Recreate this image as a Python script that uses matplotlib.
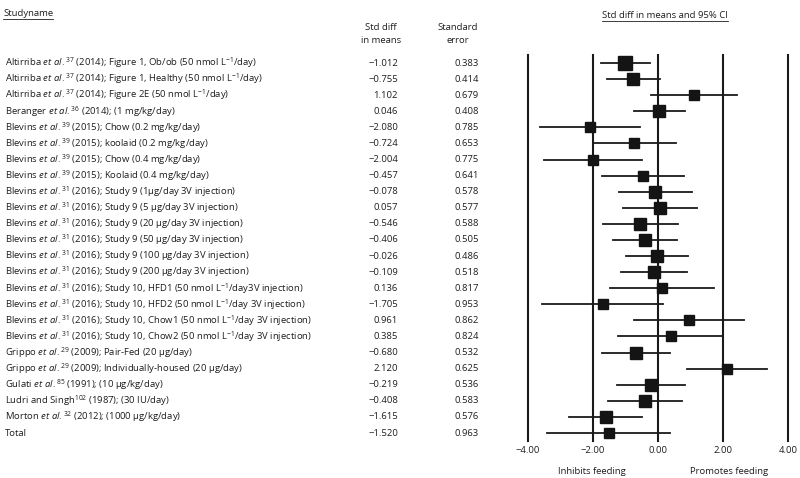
import numpy as np
import matplotlib
matplotlib.use("Agg")
import matplotlib.pyplot as plt
from matplotlib import transforms
from matplotlib.lines import Line2D

plt.rcParams['font.family'] = ['Open Sans', 'DejaVu Sans']
plt.rcParams['mathtext.fontset'] = 'custom'
plt.rcParams['mathtext.rm'] = 'Open Sans'
plt.rcParams['mathtext.it'] = 'Open Sans:italic'

# STUDY LABELS (mathtext for italics / superscripts)
ETAL = r"$\mathit{et\ al.}^{%s}$"
study_names = [
    "Altirriba " + ETAL % "37" + " (2014); Figure 1, Ob/ob (50 nmol L$^{-1}$/day)",
    "Altirriba " + ETAL % "37" + " (2014); Figure 1, Healthy (50 nmol L$^{-1}$/day)",
    "Altirriba " + ETAL % "37" + " (2014); Figure 2E (50 nmol L$^{-1}$/day)",
    "Beranger " + ETAL % "36" + " (2014); (1 mg/kg/day)",
    "Blevins " + ETAL % "39" + " (2015); Chow (0.2 mg/kg/day)",
    "Blevins " + ETAL % "39" + " (2015); koolaid (0.2 mg/kg/day)",
    "Blevins " + ETAL % "39" + " (2015); Chow (0.4 mg/kg/day)",
    "Blevins " + ETAL % "39" + " (2015); Koolaid (0.4 mg/kg/day)",
    "Blevins " + ETAL % "31" + " (2016); Study 9 (1μg/day 3V injection)",
    "Blevins " + ETAL % "31" + " (2016); Study 9 (5 μg/day 3V injection)",
    "Blevins " + ETAL % "31" + " (2016); Study 9 (20 μg/day 3V injection)",
    "Blevins " + ETAL % "31" + " (2016); Study 9 (50 μg/day 3V injection)",
    "Blevins " + ETAL % "31" + " (2016); Study 9 (100 μg/day 3V injection)",
    "Blevins " + ETAL % "31" + " (2016); Study 9 (200 μg/day 3V injection)",
    "Blevins " + ETAL % "31" + " (2016); Study 10, HFD1 (50 nmol L$^{-1}$/day3V injection)",
    "Blevins " + ETAL % "31" + " (2016); Study 10, HFD2 (50 nmol L$^{-1}$/day 3V injection)",
    "Blevins " + ETAL % "31" + " (2016); Study 10, Chow1 (50 nmol L$^{-1}$/day 3V injection)",
    "Blevins " + ETAL % "31" + " (2016); Study 10, Chow2 (50 nmol L$^{-1}$/day 3V injection)",
    "Grippo " + ETAL % "29" + " (2009); Pair-Fed (20 μg/day)",
    "Grippo " + ETAL % "29" + " (2009); Individually-housed (20 μg/day)",
    "Gulati " + ETAL % "85" + " (1991); (10 μg/kg/day)",
    "Ludri and Singh$^{102}$ (1987); (30 IU/day)",
    "Morton " + ETAL % "32" + " (2012); (1000 μg/kg/day)",
    "Total",
]
std_diff = [-1.012, -0.755, 1.102, 0.046, -2.080, -0.724, -2.004, -0.457,
            -0.078, 0.057, -0.546, -0.406, -0.026, -0.109, 0.136, -1.705,
            0.961, 0.385, -0.680, 2.120, -0.219, -0.408, -1.615, -1.520]
std_err = [0.383, 0.414, 0.679, 0.408, 0.785, 0.653, 0.775, 0.641,
           0.578, 0.577, 0.588, 0.505, 0.486, 0.518, 0.817, 0.953,
           0.862, 0.824, 0.532, 0.625, 0.536, 0.583, 0.576, 0.963]
x_ticks = [-4, -2, 0, 2, 4]


def fmt(v):
    return f"{v:.3f}".replace("-", "\u2212")


W, H = 800, 478
fig = plt.figure(figsize=(W / 100, H / 100), dpi=100)

n = len(std_diff)
rows = np.arange(n)

# FOREST AXES: x from -4 (px 528) to 4 (px 788), first row at y=63 px, total at 433 px
first_px, last_px = 63, 433
row_px = (last_px - first_px) / (n - 1)


def row_of(px):
    return (px - first_px) / row_px


ax = fig.add_axes([528 / W, 0, 260 / W, 1])
ax.set_xlim(-4, 4)
ax.set_ylim(row_of(H), row_of(0))
ax.axis("off")

txt = "#1e1e1e"
fs = 6.8

for x in x_ticks:
    ax.plot([x, x], [row_of(55), row_of(441)], color="#1a1a1a", lw=1.5, clip_on=False)
    ax.text(x, row_of(450), f"{x:.2f}".replace("-", "\u2212"), ha="center", va="center",
            fontsize=fs, color=txt)

for i in rows:
    m, s = std_diff[i], std_err[i]
    ax.plot([m - 1.96 * s, m + 1.96 * s], [i, i], color="#1a1a1a", lw=1.3, zorder=2)
    ax.plot(m, i, marker="s", ms=5.5 + 1.5 / s, color="#141414", zorder=3)

ax.text(-2.03, row_of(471), "Inhibits feeding", ha="center", va="center", fontsize=fs, color=txt)
ax.text(2.18, row_of(471), "Promotes feeding", ha="center", va="center", fontsize=fs, color=txt)

# TABLE COLUMNS
tr = transforms.blended_transform_factory(fig.transFigure, ax.transData)
for i in rows:
    ax.text(5 / W, i, study_names[i], transform=tr, ha="left", va="center",
            fontsize=fs, color=txt)
    ax.text(398 / W, i, fmt(std_diff[i]), transform=tr, ha="right", va="center",
            fontsize=fs, color=txt)
    ax.text(479 / W, i, fmt(std_err[i]), transform=tr, ha="right", va="center",
            fontsize=fs, color=txt)

t1 = ax.text(3 / W, row_of(13), "Studyname", transform=tr, ha="left", va="center",
             fontsize=fs, color=txt)
ax.text(381 / W, row_of(27), "Std diff", transform=tr, ha="center", va="center",
        fontsize=fs, color=txt)
ax.text(381 / W, row_of(40), "in means", transform=tr, ha="center", va="center",
        fontsize=fs, color=txt)
ax.text(458 / W, row_of(27), "Standard", transform=tr, ha="center", va="center",
        fontsize=fs, color=txt)
ax.text(458 / W, row_of(40), "error", transform=tr, ha="center", va="center",
        fontsize=fs, color=txt)
t2 = ax.text(665 / W, row_of(15), "Std diff in means and 95% CI", transform=tr,
             ha="center", va="center", fontsize=fs, color=txt)

# UNDERLINES UNDER HEADERS
fig.canvas.draw()
for t in (t1, t2):
    bb = t.get_window_extent()
    y = bb.y0 - 1.5
    fig.add_artist(Line2D([bb.x0 / W, bb.x1 / W], [y / H, y / H], color=txt, lw=0.6))

fig.savefig("out.png", dpi=100)
